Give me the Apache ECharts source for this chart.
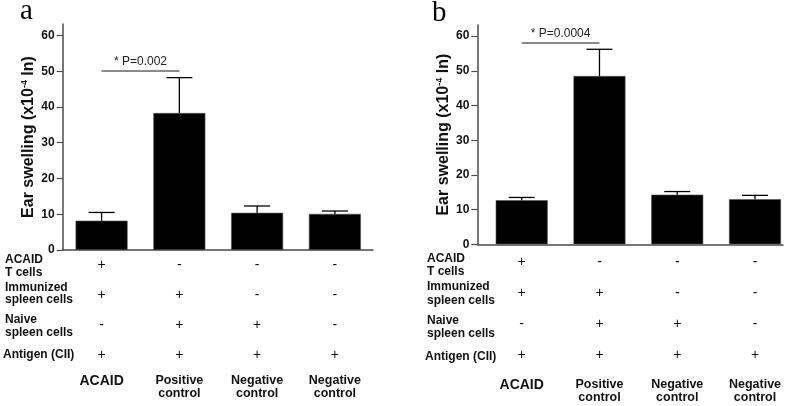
<!DOCTYPE html>
<html><head><meta charset="utf-8">
<script src="https://cdn.jsdelivr.net/npm/echarts@6/dist/echarts.min.js"></script>
<style>html,body{margin:0;padding:0;background:#fff}#c{width:798px;height:406px}</style>
</head><body><div id="c"></div>
<script>
// ---- data ----
const categories = ['ACAID', 'Positive\ncontrol', 'Negative\ncontrol', 'Negative\ncontrol'];
const meanA = [8.2, 38.3, 10.4, 10.1];
const upperA = [10.5, 48.2, 12.3, 10.9];
const meanB = [12.7, 48.5, 14.3, 13.0];
const upperB = [13.5, 56.2, 15.2, 14.1];
const yTicks = [0, 10, 20, 30, 40, 50, 60];
const sigA = {from: 0, to: 1, y: 50.1, text: '* P=0.002'};
const sigB = {from: 0, to: 1, y: 58.1, text: '* P=0.0004'};
const rowLabels = ['ACAID', 'T cells', 'Immunized', 'spleen cells', 'Naive', 'spleen cells', 'Antigen (CII)'];
// condition table: rows = ACAID T cells, Immunized spleen cells, Naive spleen cells, Antigen (CII)
const conditions = [
  ['+', '+', '-', '+'],
  ['-', '+', '+', '+'],
  ['-', '-', '+', '+'],
  ['-', '-', '-', '+']
];
const panelLetters = ['a', 'b'];
const yName = '{t|Ear swelling (x10}{s|-4}{t| ln)}';

const chart = echarts.init(document.getElementById('c'), null, {renderer: 'canvas'});
const AX = '#4a4a4a';
const FONT = '"Liberation Sans", Arial, sans-serif';

function xLabelFormatter() {
  return function (v) {
    const i = Math.round(v);
    const parts = conditions[i].map(s => '{r|' + s + '}');
    parts.push('{sp| }');
    categories[i].split('\n').forEach(l => parts.push((i === 0 ? '{n0|' : '{n|') + l + '}'));
    return parts.join('\n');
  };
}
function xRich(rowH, spacer) {
  return {
    r: {fontSize: 14, fontFamily: FONT, color: '#111', lineHeight: rowH},
    sp: {fontSize: 1, lineHeight: spacer},
    n: {fontSize: 12.5, fontWeight: 'bold', fontFamily: FONT, color: '#111', lineHeight: 13},
    n0: {fontSize: 14, fontWeight: 'bold', fontFamily: FONT, color: '#111', lineHeight: 13}
  };
}
function errSeries(xi, mean, upper) {
  return {
    type: 'custom', xAxisIndex: xi, yAxisIndex: xi, z: 5,
    data: mean.map((m, i) => [i, m, upper[i]]),
    renderItem: function (params, api) {
      const x = api.value(0);
      const p0 = api.coord([x, api.value(1)]);
      const p1 = api.coord([x, api.value(2)]);
      const hw = 13;
      return {type: 'group', children: [
        {type: 'line', shape: {x1: p0[0], y1: p0[1], x2: p1[0], y2: p1[1]}, style: {stroke: '#000', lineWidth: 1.3}},
        {type: 'line', shape: {x1: p1[0] - hw, y1: p1[1], x2: p1[0] + hw, y2: p1[1]}, style: {stroke: '#000', lineWidth: 1.3}}
      ]};
    }
  };
}
function barSeries(xi, mean, sig) {
  return {
    type: 'bar', xAxisIndex: xi, yAxisIndex: xi, barWidth: 52,
    data: mean.map((m, i) => [i, m]),
    itemStyle: {color: '#000', borderColor: '#555', borderWidth: 0.6},
    markLine: {
      symbol: 'none', silent: true,
      lineStyle: {color: '#8a8a8a', width: 1.8, type: 'solid'},
      label: {show: true, position: 'middle', formatter: sig.text, color: '#222', fontSize: 12, fontFamily: FONT, distance: 3},
      data: [[{coord: [sig.from, sig.y]}, {coord: [sig.to, sig.y]}]]
    }
  };
}
function yAxis(gi, gap) {
  return {
    type: 'value', gridIndex: gi, min: 0, max: 63.2, interval: 10,
    name: yName, nameLocation: 'middle', nameGap: gap, nameRotate: 90,
    nameTextStyle: {rich: {
      t: {fontSize: 16, fontWeight: 'bold', fontFamily: FONT, color: '#111', lineHeight: 18},
      s: {fontSize: 9, fontWeight: 'bold', fontFamily: FONT, color: '#111', lineHeight: 18, verticalAlign: 'top', padding: [0, 0, 7, 0]}
    }},
    axisLine: {show: true, onZero: false, lineStyle: {color: AX, width: 1.5}},
    axisTick: {show: true, length: 6, lineStyle: {color: AX, width: 1.2}, customValues: yTicks},
    axisLabel: {fontSize: 12, fontWeight: 'bold', fontFamily: FONT, color: '#111', margin: 8, customValues: yTicks},
    splitLine: {show: false}
  };
}
function xAxis(gi, min, max, rowH, spacer, margin) {
  return {
    type: 'value', gridIndex: gi, min: min, max: max,
    axisLine: {show: true, onZero: false, lineStyle: {color: AX, width: 1.5}},
    axisTick: {show: false},
    splitLine: {show: false},
    axisLabel: {margin: margin, customValues: [0, 1, 2, 3], formatter: xLabelFormatter(), rich: xRich(rowH, spacer), align: 'center', verticalAlign: 'top'}
  };
}

const rowYA = [261, 273.3, 288.3, 301, 320.7, 333.3, 356];
const rowYB = [259.3, 272.3, 287.7, 301.7, 321.7, 335, 357.3];
const graphics = [];
rowLabels.forEach((t, i) => {
  graphics.push({type: 'text', left: i === 6 ? 3 : 5, top: rowYA[i] - 7, style: {text: t, font: 'bold 12px ' + FONT, fill: '#111'}});
  graphics.push({type: 'text', left: i === 6 ? 425 : 427, top: rowYB[i] - 7, style: {text: t, font: 'bold 12px ' + FONT, fill: '#111'}});
});
graphics.push({type: 'text', left: 20, top: -3, style: {text: panelLetters[0], font: '29px "Liberation Serif", "Times New Roman", serif', fill: '#000'}});
graphics.push({type: 'text', left: 432, top: -1, style: {text: panelLetters[1], font: '29px "Liberation Serif", "Times New Roman", serif', fill: '#000'}});

chart.setOption({
  animation: false,
  backgroundColor: '#fff',
  grid: [
    {left: 62.7, width: 310.3, top: 24, height: 226},
    {left: 477.3, width: 305.7, top: 25, height: 219.3}
  ],
  xAxis: [xAxis(0, -0.5, 3.49, 30, 4.5, 0), xAxis(1, -0.571, 3.36, 31, 8, 2)],
  yAxis: [yAxis(0, 25), yAxis(1, 23)],
  series: [barSeries(0, meanA, sigA), errSeries(0, meanA, upperA), barSeries(1, meanB, sigB), errSeries(1, meanB, upperB)],
  graphic: graphics
});
</script></body></html>
